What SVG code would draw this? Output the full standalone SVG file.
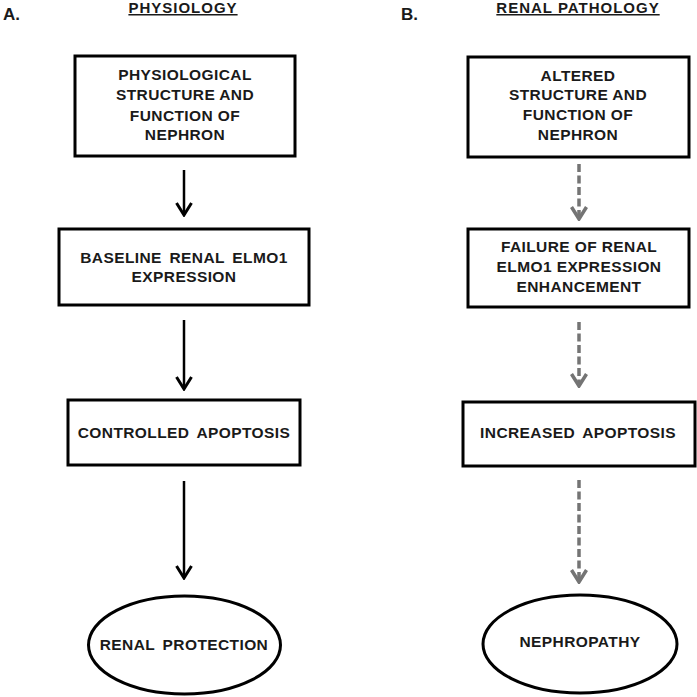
<svg xmlns="http://www.w3.org/2000/svg" width="697" height="697" viewBox="0 0 697 697">
<defs>
<style>
text{font-family:"Liberation Sans",Arial,sans-serif;font-weight:bold;fill:#1a1a1a;text-anchor:middle}
.t{font-size:15.5px;letter-spacing:0.4px}
.h{font-size:15px;letter-spacing:1px;text-decoration:underline}
.lbl{font-size:17px;text-anchor:start}
.box{fill:#fff;stroke:#000;stroke-width:3}
.solid{stroke:#000;stroke-width:2.5;fill:none}
.dash{stroke:#747474;stroke-width:3.5;fill:none;stroke-dasharray:8 3.5}
</style>
<marker id="ah" viewBox="0 0 16 20" refX="14" refY="10" markerWidth="16" markerHeight="20" markerUnits="userSpaceOnUse" orient="auto">
<path d="M2,2.5 L14,10 L2,17.5" fill="none" stroke="#000" stroke-width="3"/>
</marker>
<marker id="ahg" viewBox="0 0 16 20" refX="14" refY="10" markerWidth="16" markerHeight="20" markerUnits="userSpaceOnUse" orient="auto">
<path d="M2,2.5 L14,10 L2,17.5" fill="none" stroke="#747474" stroke-width="3.5"/>
</marker>
</defs>
<rect width="697" height="697" fill="#fff"/>
<g id="headers">
<text class="lbl" x="3" y="20">A.</text>
<text class="h" x="183" y="13">PHYSIOLOGY</text>
<text class="lbl" x="401" y="20">B.</text>
<text class="h" x="578" y="13">RENAL PATHOLOGY</text>
</g>
<g id="connectors">
<line class="solid" x1="184" y1="170" x2="184" y2="215" marker-end="url(#ah)"/>
<line class="solid" x1="184" y1="320" x2="184" y2="389" marker-end="url(#ah)"/>
<line class="solid" x1="184" y1="481" x2="184" y2="578" marker-end="url(#ah)"/>
<line class="dash" x1="579" y1="164" x2="579" y2="219" marker-end="url(#ahg)"/>
<line class="dash" x1="579" y1="322" x2="579" y2="386" marker-end="url(#ahg)"/>
<line class="dash" x1="579" y1="480" x2="579" y2="582" marker-end="url(#ahg)"/>
</g>
<g id="a1">
<rect class="box" x="75" y="56" width="220" height="100"/>
<text class="t" x="185" y="80">PHYSIOLOGICAL</text>
<text class="t" x="185" y="100">STRUCTURE AND</text>
<text class="t" x="185" y="121">FUNCTION OF</text>
<text class="t" x="185" y="140">NEPHRON</text>
</g>
<g id="a2">
<rect class="box" x="59" y="229" width="250" height="76"/>
<text class="t" x="184" y="263" word-spacing="3">BASELINE RENAL ELMO1</text>
<text class="t" x="184" y="282">EXPRESSION</text>
</g>
<g id="a3">
<rect class="box" x="68" y="400" width="232" height="65"/>
<text class="t" x="184" y="438" word-spacing="3">CONTROLLED APOPTOSIS</text>
</g>
<g id="a4">
<ellipse class="box" cx="184.5" cy="645" rx="96" ry="49"/>
<text class="t" x="184" y="650" word-spacing="3">RENAL PROTECTION</text>
</g>
<g id="b1">
<rect class="box" x="468" y="57" width="221" height="100"/>
<text class="t" x="578" y="81">ALTERED</text>
<text class="t" x="578" y="100">STRUCTURE AND</text>
<text class="t" x="578" y="120">FUNCTION OF</text>
<text class="t" x="578" y="140">NEPHRON</text>
</g>
<g id="b2">
<rect class="box" x="468" y="229" width="221" height="78"/>
<text class="t" x="579" y="252">FAILURE OF RENAL</text>
<text class="t" x="579" y="272">ELMO1 EXPRESSION</text>
<text class="t" x="579" y="292">ENHANCEMENT</text>
</g>
<g id="b3">
<rect class="box" x="463" y="402" width="232" height="64"/>
<text class="t" x="578" y="438" word-spacing="3">INCREASED APOPTOSIS</text>
</g>
<g id="b4">
<ellipse class="box" cx="580" cy="644" rx="97" ry="49"/>
<text class="t" x="580" y="647">NEPHROPATHY</text>
</g>
</svg>
